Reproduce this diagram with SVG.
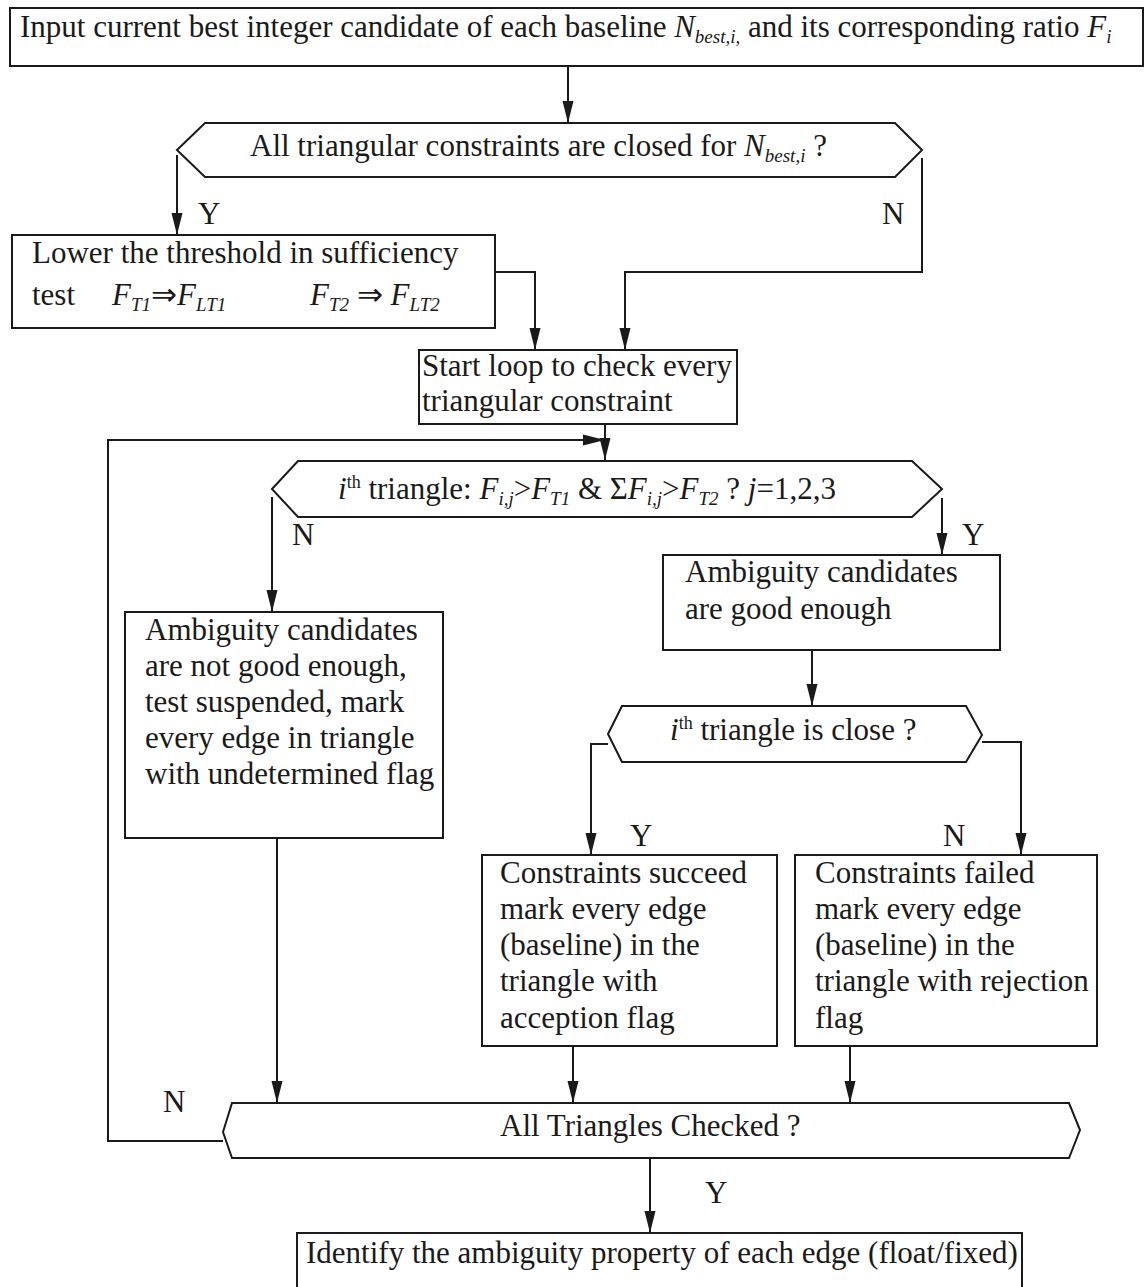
<svg xmlns="http://www.w3.org/2000/svg" width="1147" height="1287" viewBox="0 0 1147 1287">
  <style>
    .shape { fill: #ffffff; stroke: #1a1a1a; stroke-width: 2; }
    .wire { fill: none; stroke: #1a1a1a; stroke-width: 2; }
    text { font-family: "Liberation Serif", "Times New Roman", serif; font-size: 31px; fill: #1a1a1a; }
    .it { font-style: italic; }
    .sub { font-size: 19px; font-style: italic; }
    .sup { font-size: 18px; }
  </style>
  <defs>
    <!-- long, narrow filled arrowhead -->
    <marker id="arrow" viewBox="0 0 22 12" refX="22" refY="6" markerWidth="22" markerHeight="12" markerUnits="userSpaceOnUse" orient="auto">
      <path d="M0,0.5 L22,6 L0,11.5 Z" fill="#1a1a1a"/>
    </marker>
  </defs>
  <rect width="1147" height="1287" fill="#ffffff"/>

  <!-- connectors -->
  <g id="connectors" class="wire" marker-end="url(#arrow)">
    <path d="M568,66 V123"/>
    <path d="M177,155 V235"/>
    <path d="M922,158 V272 H625 V350"/>
    <path d="M495,272 H535 V350"/>
    <path d="M605,424 V460"/>
    <path d="M223,1141 H108 V440 H605"/>
    <path d="M272,497 V612"/>
    <path d="M942,498 V555"/>
    <path d="M812,650 V706"/>
    <path d="M608,744 H591 V855"/>
    <path d="M982,742 H1021 V855"/>
    <path d="M277,838 V1103"/>
    <path d="M573,1046 V1103"/>
    <path d="M850,1046 V1103"/>
    <path d="M650,1158 V1233"/>
  </g>

  <!-- branch labels -->
  <g id="labels">
    <text x="198" y="224">Y</text>
    <text x="882" y="224">N</text>
    <text x="292" y="545">N</text>
    <text x="962" y="545">Y</text>
    <text x="630" y="846">Y</text>
    <text x="943" y="846">N</text>
    <text x="163" y="1112">N</text>
    <text x="705" y="1203">Y</text>
  </g>

  <g id="input">
    <rect class="shape" x="10" y="8" width="1133" height="58"/>
    <text x="20" y="37">Input current best integer candidate of each baseline <tspan class="it">N</tspan><tspan class="sub" dy="6">best,i,</tspan><tspan dy="-6"> and its corresponding ratio </tspan><tspan class="it">F</tspan><tspan class="sub" dy="6">i</tspan></text>
  </g>

  <g id="all-closed">
    <polygon class="shape" points="177,150 205,123 895,123 922,150 895,177 205,177"/>
    <text x="250" y="156">All triangular constraints are closed for <tspan class="it">N</tspan><tspan class="sub" dy="6">best,i</tspan><tspan dy="-6"> ?</tspan></text>
  </g>

  <g id="lower-threshold">
    <rect class="shape" x="12" y="235" width="483" height="93"/>
    <text x="32" y="263">Lower the threshold in sufficiency</text>
    <text x="32" y="305">test<tspan x="112" class="it">F</tspan><tspan class="sub" dy="6">T1</tspan><tspan dy="-6">⇒</tspan><tspan class="it">F</tspan><tspan class="sub" dy="6">LT1</tspan><tspan x="310" dy="-6" class="it">F</tspan><tspan class="sub" dy="6">T2</tspan><tspan dy="-6"> ⇒ </tspan><tspan class="it">F</tspan><tspan class="sub" dy="6">LT2</tspan></text>
  </g>

  <g id="start-loop">
    <rect class="shape" x="419" y="350" width="318" height="74"/>
    <text x="422" y="376">Start loop to check every</text>
    <text x="422" y="411">triangular constraint</text>
  </g>

  <g id="triangle-test">
    <polygon class="shape" points="272,489 298,461 912,461 942,489 912,517 298,517"/>
    <text x="338" y="499"><tspan class="it">i</tspan><tspan class="sup" dy="-11">th</tspan><tspan dy="11"> triangle: </tspan><tspan class="it">F</tspan><tspan class="sub" dy="6">i,j</tspan><tspan dy="-6">&gt;</tspan><tspan class="it">F</tspan><tspan class="sub" dy="6">T1</tspan><tspan dy="-6"> &amp; Σ</tspan><tspan class="it">F</tspan><tspan class="sub" dy="6">i,j</tspan><tspan dy="-6">&gt;</tspan><tspan class="it">F</tspan><tspan class="sub" dy="6">T2</tspan><tspan dy="-6"> ? </tspan><tspan class="it">j</tspan><tspan>=1,2,3</tspan></text>
  </g>

  <g id="not-good">
    <rect class="shape" x="125" y="612" width="318" height="226"/>
    <text x="145" y="640">Ambiguity candidates</text>
    <text x="145" y="676">are not good enough,</text>
    <text x="145" y="712">test suspended, mark</text>
    <text x="145" y="748">every edge in triangle</text>
    <text x="145" y="784">with undetermined flag</text>
  </g>

  <g id="good">
    <rect class="shape" x="663" y="555" width="337" height="95"/>
    <text x="685" y="582">Ambiguity candidates</text>
    <text x="685" y="619">are good enough</text>
  </g>

  <g id="is-close">
    <polygon class="shape" points="608,734 622,706 966,706 982,735 966,762 622,762"/>
    <text x="670" y="740"><tspan class="it">i</tspan><tspan class="sup" dy="-11">th</tspan><tspan dy="11"> triangle is close ?</tspan></text>
  </g>

  <g id="succeed">
    <rect class="shape" x="482" y="855" width="295" height="191"/>
    <text x="500" y="883">Constraints succeed</text>
    <text x="500" y="919">mark every edge</text>
    <text x="500" y="955">(baseline) in the</text>
    <text x="500" y="991">triangle with</text>
    <text x="500" y="1028">acception flag</text>
  </g>

  <g id="failed">
    <rect class="shape" x="795" y="855" width="302" height="191"/>
    <text x="815" y="883">Constraints failed</text>
    <text x="815" y="919">mark every edge</text>
    <text x="815" y="955">(baseline) in the</text>
    <text x="815" y="991">triangle with rejection</text>
    <text x="815" y="1028">flag</text>
  </g>

  <g id="all-checked">
    <polygon class="shape" points="223,1132 232,1103 1069,1103 1080,1130 1069,1158 232,1158"/>
    <text x="500" y="1136">All Triangles Checked ?</text>
  </g>

  <g id="identify">
    <rect class="shape" x="297" y="1233" width="725" height="70"/>
    <text x="306" y="1263">Identify the ambiguity property of each edge (float/fixed)</text>
  </g>
</svg>
